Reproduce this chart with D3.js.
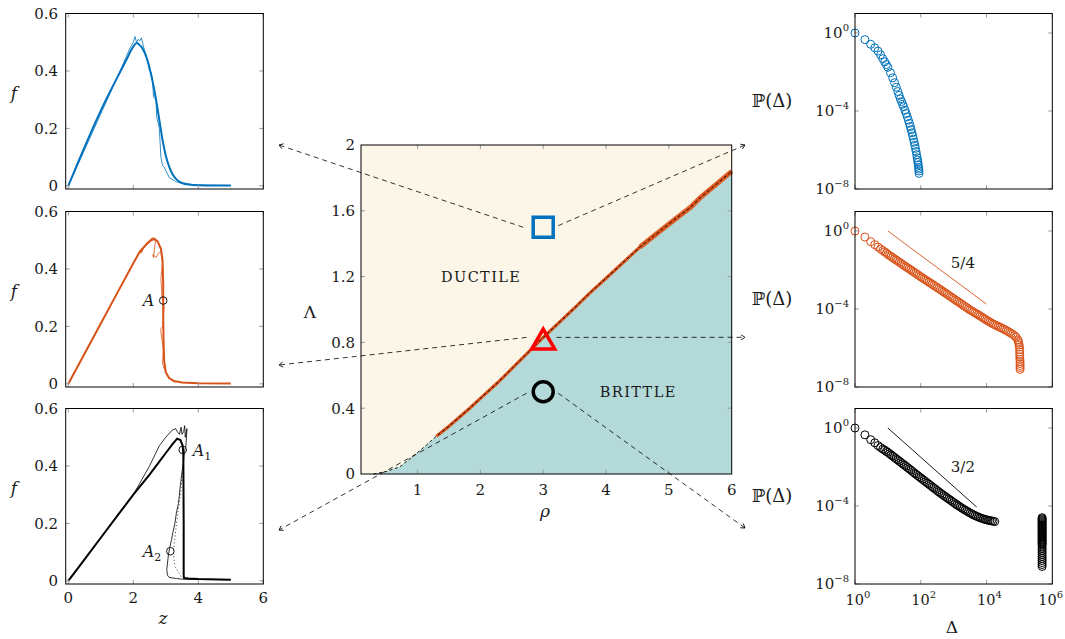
<!DOCTYPE html>
<html>
<head>
<meta charset="utf-8">
<script src="https://cdn.jsdelivr.net/npm/d3@7"></script>
<style>
  body { margin: 0; background: #fff; }
  text { font-family: 'DejaVu Serif', 'Liberation Serif', serif; fill: #1a1a1a; }
</style>
</head>
<body>
<div id="chart"></div>
<script>
// ---------- left panels: f against z ----------
const zTicks = [0, 2, 4, 6];
const fTicks = [0, 0.2, 0.4, 0.6];

const blueZ = [0, 0.25, 0.5, 0.75, 1.0, 1.25, 1.5, 1.75, 2.0, 2.1, 2.2, 2.3, 2.4, 2.5, 2.6, 2.7, 2.8, 2.9, 3.0, 3.1, 3.2, 3.3, 3.4, 3.5, 3.75, 4.0, 4.5, 5.0];
const blueF = [0, 0.068, 0.135, 0.2, 0.262, 0.32, 0.376, 0.43, 0.485, 0.497, 0.49, 0.475, 0.45, 0.41, 0.36, 0.3, 0.23, 0.16, 0.105, 0.068, 0.042, 0.026, 0.016, 0.01, 0.004, 0.002, 0.001, 0.001];
const blueThinZ = [0, 1.5, 1.9, 2.0, 2.05, 2.1, 2.15, 2.2, 2.25, 2.3, 2.35, 2.45, 2.5, 2.55, 2.6, 2.62, 2.7, 2.72, 2.8, 2.85, 2.9, 2.95, 3.1, 3.3, 3.5, 4.0, 5.0];
const blueThinF = [0, 0.376, 0.48, 0.5, 0.52, 0.5, 0.51, 0.505, 0.515, 0.49, 0.47, 0.43, 0.4, 0.395, 0.36, 0.31, 0.3, 0.24, 0.2, 0.1, 0.07, 0.065, 0.03, 0.015, 0.008, 0.003, 0.001];

const orangeZ = [0, 0.5, 1.0, 1.5, 2.0, 2.2, 2.4, 2.55, 2.65, 2.75, 2.85, 2.9, 2.92, 2.92, 2.93, 2.95, 3.0, 3.1, 3.25, 3.5, 4.0, 5.0];
const orangeF = [0, 0.105, 0.21, 0.315, 0.42, 0.46, 0.485, 0.5, 0.505, 0.495, 0.47, 0.43, 0.35, 0.25, 0.15, 0.08, 0.04, 0.02, 0.01, 0.005, 0.002, 0.001];
const orangeThinZ = [0, 2.0, 2.2, 2.26, 2.24, 2.4, 2.6, 2.68, 2.62, 2.6, 2.7, 2.78, 2.85, 2.9, 2.85, 2.88, 2.95, 2.9, 2.84, 2.92, 2.9, 2.96, 3.05, 3.15, 3.3];
const orangeThinF = [0, 0.42, 0.46, 0.47, 0.455, 0.49, 0.51, 0.495, 0.44, 0.45, 0.44, 0.455, 0.46, 0.42, 0.37, 0.3, 0.27, 0.2, 0.19, 0.12, 0.07, 0.05, 0.03, 0.015, 0.005];

const blackZ = [0, 0.5, 1.0, 1.5, 2.0, 2.5, 2.8, 3.0, 3.2, 3.35, 3.45, 3.52, 3.54, 3.55, 3.55, 3.56, 3.7, 4.0, 5.0];
const blackF = [0, 0.075, 0.15, 0.225, 0.3, 0.37, 0.415, 0.445, 0.475, 0.495, 0.49, 0.47, 0.44, 0.2, 0.02, 0.01, 0.008, 0.006, 0.004];
const blackThinZ = [0, 2.0, 2.5, 2.8, 3.0, 3.2, 3.3, 3.35, 3.42, 3.47, 3.5, 3.55, 3.58, 3.6, 3.65, 3.62, 3.57, 3.55, 3.5, 3.44, 3.39, 3.33, 3.28, 3.22, 3.18, 3.12, 3.08, 3.03, 3.05, 3.1, 3.33, 3.6, 5.0];
const blackThinF = [0, 0.3, 0.4, 0.47, 0.5, 0.525, 0.53, 0.52, 0.51, 0.535, 0.51, 0.52, 0.54, 0.5, 0.53, 0.47, 0.45, 0.42, 0.38, 0.325, 0.27, 0.24, 0.2, 0.17, 0.145, 0.115, 0.09, 0.04, 0.02, 0.012, 0.008, 0.005, 0.004];
const blackDotZ = [3.54, 3.45, 3.33, 3.23, 3.28, 3.49];
const blackDotF = [0.4, 0.3, 0.2, 0.1, 0.05, 0.012];

// marked states: A, A1, A2
const pointLabels = ['A', 'A', 'A'];
const pointSubs = ['', '1', '2'];
const pointPanel = [1, 2, 2];
const pointZ = [2.92, 3.52, 3.14];
const pointF = [0.29, 0.456, 0.103];

// ---------- centre: phase diagram ----------
const rhoTicks = [1, 2, 3, 4, 5, 6];
const lambdaTicks = [0, 0.4, 0.8, 1.2, 1.6, 2];
const boundaryRho = [0.1, 0.3, 0.5, 0.72, 1.0, 1.14, 1.3, 1.5, 1.83, 2.0, 2.26, 2.5, 3.0, 3.5, 3.74, 4.0, 4.54, 5.0, 5.34, 5.5, 6.0];
const boundaryLambda = [0, 0, 0.015, 0.044, 0.13, 0.176, 0.23, 0.29, 0.40, 0.46, 0.55, 0.64, 0.83, 1.01, 1.10, 1.19, 1.38, 1.52, 1.62, 1.68, 1.84];
const phaseLabels = ['DUCTILE', 'BRITTLE'];
const phaseRho = [2.0, 4.5];
const phaseLambda = [1.2, 0.5];
const stateRho = [3, 3, 3];
const stateLambda = [1.5, 0.8, 0.5];

// ---------- right panels: P(Δ), given as base-10 exponents ----------
const deltaTickExp = [0, 2, 4, 6];
const probTickExp = [0, -4, -8];

const blueLogDelta = [0, 0.301, 0.477, 0.602, 0.699, 0.778, 0.845, 0.903, 0.954, 1.0, 1.079, 1.146, 1.204, 1.255, 1.301, 1.342, 1.38, 1.415, 1.447, 1.477, 1.519, 1.556, 1.591, 1.623, 1.653, 1.681, 1.708, 1.732, 1.756, 1.778, 1.799, 1.82, 1.839, 1.857, 1.875, 1.892, 1.903, 1.914, 1.924, 1.934, 1.94, 1.944, 1.949];
const blueLogP = [0, -0.34, -0.58, -0.76, -0.93, -1.12, -1.32, -1.48, -1.62, -1.76, -2.04, -2.3, -2.55, -2.78, -3.0, -3.2, -3.38, -3.52, -3.65, -3.78, -3.96, -4.13, -4.3, -4.47, -4.63, -4.8, -4.96, -5.12, -5.28, -5.44, -5.6, -5.76, -5.92, -6.08, -6.24, -6.4, -6.52, -6.64, -6.76, -6.9, -6.98, -7.08, -7.2];

const orangeLogDelta = [0, 0.301, 0.477, 0.602, 0.699, 0.778, 0.845, 0.903, 0.954,
  1.0, 1.05, 1.1, 1.15, 1.2, 1.25, 1.3, 1.35, 1.4, 1.45, 1.5, 1.55, 1.6, 1.65, 1.7, 1.75, 1.8, 1.85, 1.9, 1.95,
  2.0, 2.05, 2.1, 2.15, 2.2, 2.25, 2.3, 2.35, 2.4, 2.45, 2.5, 2.55, 2.6, 2.65, 2.7, 2.75, 2.8, 2.85, 2.9, 2.95,
  3.0, 3.05, 3.1, 3.15, 3.2, 3.25, 3.3, 3.35, 3.4, 3.45, 3.5, 3.55, 3.6, 3.65, 3.7, 3.75, 3.8, 3.85, 3.9, 3.95,
  4.0, 4.05, 4.1, 4.15, 4.2, 4.25, 4.3, 4.35, 4.4, 4.45, 4.5, 4.55, 4.6, 4.65, 4.7, 4.75, 4.8, 4.85, 4.9,
  4.95, 4.97, 4.98, 4.99, 5.0, 5.005, 5.01, 5.01, 5.01, 5.015, 5.02, 5.02, 5.02, 5.02, 5.02];
const orangeLogP = [0, -0.31, -0.55, -0.7, -0.82, -0.92, -1.0, -1.07, -1.13,
  -1.2, -1.255, -1.31, -1.37, -1.43, -1.485, -1.54, -1.6, -1.66, -1.72, -1.78, -1.835, -1.89, -1.945, -2.0, -2.06, -2.12, -2.175, -2.23, -2.29,
  -2.35, -2.405, -2.46, -2.515, -2.57, -2.625, -2.68, -2.735, -2.79, -2.845, -2.9, -2.955, -3.01, -3.07, -3.13, -3.185, -3.24, -3.3, -3.36, -3.415,
  -3.47, -3.53, -3.59, -3.645, -3.7, -3.76, -3.82, -3.875, -3.93, -3.99, -4.05, -4.1, -4.15, -4.2, -4.25, -4.3, -4.35, -4.405, -4.46, -4.515,
  -4.57, -4.62, -4.67, -4.72, -4.77, -4.81, -4.85, -4.89, -4.93, -4.97, -5.01, -5.055, -5.1, -5.15, -5.2, -5.25, -5.3, -5.37, -5.45,
  -5.58, -5.66, -5.75, -5.85, -5.95, -6.08, -6.2, -6.32, -6.45, -6.58, -6.7, -6.8, -6.9, -7.0, -7.1];

const blackLogDelta = [0, 0.301, 0.477, 0.602, 0.699, 0.778, 0.845, 0.903, 0.954,
  1.0, 1.05, 1.1, 1.15, 1.2, 1.25, 1.3, 1.35, 1.4, 1.45, 1.5, 1.55, 1.6, 1.65, 1.7, 1.75, 1.8, 1.85, 1.9, 1.95,
  2.0, 2.05, 2.1, 2.15, 2.2, 2.25, 2.3, 2.35, 2.4, 2.45, 2.5, 2.55, 2.6, 2.65, 2.7, 2.75, 2.8, 2.85, 2.9, 2.95,
  3.0, 3.05, 3.1, 3.15, 3.2, 3.25, 3.3, 3.35, 3.4, 3.45, 3.5, 3.55, 3.6, 3.65, 3.7, 3.75, 3.8, 3.85, 3.9, 3.95,
  4.0, 4.05, 4.1, 4.15, 4.2, 4.25];
const blackLogP = [0, -0.35, -0.6, -0.76, -0.9, -1.0, -1.08, -1.14, -1.2,
  -1.25, -1.315, -1.38, -1.445, -1.51, -1.575, -1.64, -1.705, -1.77, -1.835, -1.9, -1.965, -2.03, -2.095, -2.16, -2.23, -2.3, -2.365, -2.43, -2.495,
  -2.56, -2.625, -2.69, -2.755, -2.82, -2.885, -2.95, -3.015, -3.08, -3.145, -3.21, -3.275, -3.34, -3.4, -3.46, -3.52, -3.58, -3.64, -3.7, -3.76,
  -3.82, -3.88, -3.94, -3.995, -4.05, -4.105, -4.16, -4.21, -4.26, -4.31, -4.36, -4.405, -4.45, -4.49, -4.53, -4.565, -4.6, -4.63, -4.66, -4.685,
  -4.71, -4.73, -4.75, -4.765, -4.78, -4.8];
// isolated system-spanning events near Δ ≈ 10^5.69
const blackClusterLogDelta = 5.69;
const blackClusterLogP = [-4.6, -4.65, -4.7, -4.75, -4.8, -4.85, -4.9, -4.95, -5.0, -5.05, -5.1, -5.15, -5.2, -5.25, -5.3, -5.35, -5.4, -5.45, -5.5, -5.55, -5.6, -5.65, -5.7, -5.75, -5.8, -5.85, -5.9, -5.95, -6.0,
  -6.1, -6.2, -6.3, -6.4, -6.5, -6.6, -6.7, -6.8, -6.9, -7.0, -7.1];

// reference slopes: [log Δ start, log P start, log Δ end, log P end]
const slopeLabels = ['', '5/4', '3/2'];
const slopeLines = [null, [1, 0, 4, -3.75], [1, 0, 3.7, -4.05]];
const slopeLabelPos = [null, [3.28, -1.61], [3.28, -1.99]];

// ---------- drawing ----------
const W = 1065, H = 639;
const BLUE = '#0072BD', ORANGE = '#D95319', BLACK = '#000';
const TICK = '#9a9a9a';
const rowTops = [13.5, 211.5, 408.5];
const panelH = 175.5;

const svg = d3.select('#chart').append('svg')
    .attr('width', W)
    .attr('height', H);

svg.append('defs').append('marker')
    .attr('id', 'arrow')
    .attr('viewBox', '-6 -4 8 8')
    .attr('markerWidth', 8)
    .attr('markerHeight', 8)
    .attr('markerUnits', 'userSpaceOnUse')
    .attr('orient', 'auto')
    .append('path')
        .attr('d', 'M-4,-2.6 L0,0 L-4,2.6')
        .attr('fill', 'none')
        .attr('stroke', '#000')
        .attr('stroke-width', 0.8);

// frame with pgfplots-like inward ticks on all four sides
const drawFrame = (g, x, y, xt, yt) => {
    const [x0, x1] = x.range();
    const [yb, ytop] = y.range();
    const t = g.append('g').attr('stroke', TICK).attr('stroke-width', 1);
    xt.forEach(v => {
        const px = x(v);
        t.append('line').attr('x1', px).attr('x2', px).attr('y1', yb).attr('y2', yb - 4);
        t.append('line').attr('x1', px).attr('x2', px).attr('y1', ytop).attr('y2', ytop + 4);
    });
    yt.forEach(v => {
        const py = y(v);
        t.append('line').attr('x1', x0).attr('x2', x0 + 4).attr('y1', py).attr('y2', py);
        t.append('line').attr('x1', x1).attr('x2', x1 - 4).attr('y1', py).attr('y2', py);
    });
    g.append('rect')
        .attr('x', x0).attr('y', ytop)
        .attr('width', x1 - x0).attr('height', yb - ytop)
        .attr('fill', 'none')
        .attr('stroke', '#000')
        .attr('stroke-width', 1);
};

const powText = (sel, e) => {
    sel.text('10');
    sel.append('tspan')
        .attr('dy', -7)
        .style('font-size', '10px')
        .text(e < 0 ? '\u2212' + (-e) : e);
};

// ----- left column -----
const leftSets = [
    { color: BLUE, thick: d3.zip(blueZ, blueF), thin: d3.zip(blueThinZ, blueThinF) },
    { color: ORANGE, thick: d3.zip(orangeZ, orangeF), thin: d3.zip(orangeThinZ, orangeThinF) },
    { color: BLACK, thick: d3.zip(blackZ, blackF), thin: d3.zip(blackThinZ, blackThinF), dots: d3.zip(blackDotZ, blackDotF) }
];

const zScale = d3.scaleLinear().domain([-0.08, 6]).range([65.7, 263.3]);

leftSets.forEach((set, i) => {
    const top = rowTops[i];
    const fScale = d3.scaleLinear().domain([-0.011, 0.6]).range([top + panelH, top]);
    const g = svg.append('g');
    const line = d3.line().curve(d3.curveMonotoneX).x(d => zScale(d[0])).y(d => fScale(d[1]));
    const rough = d3.line().x(d => zScale(d[0])).y(d => fScale(d[1]));

    g.append('path').attr('d', rough(set.thin))
        .attr('fill', 'none').attr('stroke', set.color).attr('stroke-width', 0.8);
    if (set.dots) {
        g.append('path').attr('d', rough(set.dots))
            .attr('fill', 'none').attr('stroke', set.color).attr('stroke-width', 0.8)
            .attr('stroke-dasharray', '1,2.5');
    }
    g.append('path').attr('d', (i === 0 ? line : rough)(set.thick))
        .attr('fill', 'none').attr('stroke', set.color).attr('stroke-width', 2);

    drawFrame(g, zScale, fScale, zTicks, fTicks);

    g.selectAll('.ylab').data(fTicks).join('text')
        .attr('x', 58).attr('y', d => fScale(d)).attr('dy', '0.36em')
        .attr('text-anchor', 'end').style('font-size', '15px')
        .text(d => d3.format('~g')(d));

    g.append('text').attr('x', 14).attr('y', top + panelH / 2 - 2)
        .attr('text-anchor', 'middle').style('font-size', '17px').style('font-style', 'italic')
        .text('f');

    pointPanel.forEach((p, k) => {
        if (p !== i) return;
        g.append('circle').attr('cx', zScale(pointZ[k])).attr('cy', fScale(pointF[k])).attr('r', 3.8)
            .attr('fill', 'none').attr('stroke', '#000').attr('stroke-width', 0.9);
        const right = k === 1;
        const lab = g.append('text')
            .attr('x', zScale(pointZ[k]) + (right ? 10 : -9))
            .attr('y', fScale(pointF[k])).attr('dy', '0.36em')
            .attr('text-anchor', right ? 'start' : 'end')
            .style('font-size', '16px').style('font-style', 'italic')
            .text(pointLabels[k]);
        if (pointSubs[k]) {
            lab.append('tspan').attr('dy', 4).style('font-size', '11px').style('font-style', 'normal')
                .text(pointSubs[k]);
        }
    });

    if (i === 2) {
        g.selectAll('.xlab').data(zTicks).join('text')
            .attr('x', d => zScale(d)).attr('y', top + panelH + 19)
            .attr('text-anchor', 'middle').style('font-size', '15px')
            .text(d => d);
        g.append('text').attr('x', 163).attr('y', 624)
            .attr('text-anchor', 'middle').style('font-size', '17px').style('font-style', 'italic')
            .text('z');
    }
});

// ----- centre phase diagram -----
const rhoScale = d3.scaleLinear().domain([0.1, 6]).range([361, 731.7]);
const lamScale = d3.scaleLinear().domain([0, 2]).range([474, 145]);
const boundary = d3.zip(boundaryRho, boundaryLambda);
const center = svg.append('g');

center.append('rect')
    .attr('x', rhoScale(0.1)).attr('y', lamScale(2))
    .attr('width', rhoScale(6) - rhoScale(0.1)).attr('height', lamScale(0) - lamScale(2))
    .attr('fill', '#FCF6E9');

center.append('path')
    .attr('d', d3.area().x(d => rhoScale(d[0])).y0(lamScale(0)).y1(d => lamScale(d[1]))(boundary))
    .attr('fill', '#B3D9D9');

const bLine = d3.line().x(d => rhoScale(d[0])).y(d => lamScale(d[1]));
center.append('path')
    .attr('d', bLine(boundary.filter(d => d[0] >= 1.25)))
    .attr('fill', 'none').attr('stroke', ORANGE).attr('stroke-width', 3.2);
center.append('path')
    .attr('d', bLine(boundary.filter(d => d[0] >= 4.5)))
    .attr('fill', 'none').attr('stroke', ORANGE).attr('stroke-width', 5).attr('opacity', 0.85);
center.append('path')
    .attr('d', bLine(boundary.filter(d => d[0] >= 0.3)))
    .attr('fill', 'none').attr('stroke', '#000').attr('stroke-width', 0.9)
    .attr('stroke-dasharray', '3,2.5');

drawFrame(center, rhoScale, lamScale, rhoTicks.slice(0, 5), lambdaTicks.slice(1, 5));

center.selectAll('.xlab').data(rhoTicks).join('text')
    .attr('x', d => rhoScale(d)).attr('y', 495)
    .attr('text-anchor', 'middle').style('font-size', '15px')
    .text(d => d);
center.selectAll('.ylab').data(lambdaTicks).join('text')
    .attr('x', 355).attr('y', d => lamScale(d)).attr('dy', '0.36em')
    .attr('text-anchor', 'end').style('font-size', '15px')
    .text(d => d3.format('~g')(d));
center.append('text').attr('x', 545).attr('y', 517)
    .attr('text-anchor', 'middle').style('font-size', '17px').style('font-style', 'italic')
    .text('\u03c1');
center.append('text').attr('x', 310).attr('y', 312).attr('dy', '0.36em')
    .attr('text-anchor', 'middle').style('font-size', '17px')
    .text('\u039b');

center.selectAll('.phase').data(phaseLabels).join('text')
    .attr('x', (d, i) => rhoScale(phaseRho[i]) + 0.8)
    .attr('y', (d, i) => lamScale(phaseLambda[i]))
    .attr('dy', '0.36em')
    .attr('text-anchor', 'middle')
    .style('font-size', '14.5px')
    .style('letter-spacing', '1.4px')
    .text(d => d);

// dashed connectors from each state marker to its panels
const connectors = [
    { k: 0, from: [-20, 0], to: [279, 145] },
    { k: 0, from: [15, -1.6], to: [745, 145] },
    { k: 1, from: [-16.6, -5], to: [279, 365] },
    { k: 1, from: [13.4, -5], to: [745, 337.3] },
    { k: 2, from: [-16.6, 1.5], to: [279, 530] },
    { k: 2, from: [15, 1.5], to: [745, 528] }
];
center.selectAll('.conn').data(connectors).join('line')
    .attr('x1', d => rhoScale(stateRho[d.k]) + d.from[0])
    .attr('y1', d => lamScale(stateLambda[d.k]) + d.from[1])
    .attr('x2', d => d.to[0])
    .attr('y2', d => d.to[1])
    .attr('stroke', '#000').attr('stroke-width', 0.8)
    .attr('stroke-dasharray', '5,4')
    .attr('marker-end', 'url(#arrow)');

const stateSymbols = [
    { type: d3.symbolSquare, size: 400, color: BLUE },
    { type: d3.symbolTriangle, size: 230, color: '#FF0000' },
    { type: d3.symbolCircle, size: Math.PI * 100, color: '#000' }
];
center.selectAll('.state').data(stateSymbols).join('path')
    .attr('transform', (d, i) => `translate(${rhoScale(stateRho[i])}, ${lamScale(stateLambda[i])})`)
    .attr('d', d => d3.symbol().type(d.type).size(d.size)())
    .attr('fill', 'none')
    .attr('stroke', d => d.color)
    .attr('stroke-width', 3.5);

// ----- right column -----
const rightSets = [
    { color: BLUE, x: blueLogDelta, y: blueLogP },
    { color: ORANGE, x: orangeLogDelta, y: orangeLogP },
    { color: BLACK,
      x: blackLogDelta.concat(blackClusterLogP.map(() => blackClusterLogDelta)),
      y: blackLogP.concat(blackClusterLogP) }
];
const dScale = d3.scaleLog().domain([1, 1e6]).range([855, 1052.3]);

rightSets.forEach((set, i) => {
    const top = rowTops[i];
    const pScale = d3.scaleLog().domain([1e-8, 10]).range([top + panelH, top]);
    const g = svg.append('g');

    g.selectAll('circle').data(d3.zip(set.x, set.y)).join('circle')
        .attr('cx', d => dScale(Math.pow(10, d[0])))
        .attr('cy', d => pScale(Math.pow(10, d[1])))
        .attr('r', 4)
        .attr('fill', 'none')
        .attr('stroke', set.color)
        .attr('stroke-width', 1);

    if (slopeLines[i]) {
        const s = slopeLines[i];
        g.append('line')
            .attr('x1', dScale(Math.pow(10, s[0]))).attr('y1', pScale(Math.pow(10, s[1])))
            .attr('x2', dScale(Math.pow(10, s[2]))).attr('y2', pScale(Math.pow(10, s[3])))
            .attr('stroke', set.color).attr('stroke-width', 0.9);
        const p = slopeLabelPos[i];
        g.append('text')
            .attr('x', dScale(Math.pow(10, p[0]))).attr('y', pScale(Math.pow(10, p[1]))).attr('dy', '0.36em')
            .attr('text-anchor', 'middle').style('font-size', '15px')
            .text(slopeLabels[i]);
    }

    drawFrame(g, dScale, pScale,
        deltaTickExp.map(e => Math.pow(10, e)),
        probTickExp.map(e => Math.pow(10, e)));

    g.selectAll('.ylab').data(probTickExp).join('text')
        .attr('x', 849).attr('y', d => pScale(Math.pow(10, d))).attr('dy', '0.36em')
        .attr('text-anchor', 'end').style('font-size', '15px')
        .each(function (d) { powText(d3.select(this), d); });

    g.append('text').attr('x', 772).attr('y', top + panelH / 2 - 1).attr('dy', '0.36em')
        .attr('text-anchor', 'middle').style('font-size', '18px')
        .text('\u2119(\u0394)');

    if (i === 2) {
        g.selectAll('.xlab').data(deltaTickExp).join('text')
            .attr('y', top + panelH + 21)
            .attr('text-anchor', 'middle').style('font-size', '14.5px')
            .each(function (d) { powText(d3.select(this), d); })
            .attr('x', function (d) {
                const half = this.getComputedTextLength() / 2;
                return Math.min(dScale(Math.pow(10, d)) + 3, W - 2 - half);
            });
        g.append('text').attr('x', 952).attr('y', 633)
            .attr('text-anchor', 'middle').style('font-size', '17px')
            .text('\u0394');
    }
});
</script>
</body>
</html>
